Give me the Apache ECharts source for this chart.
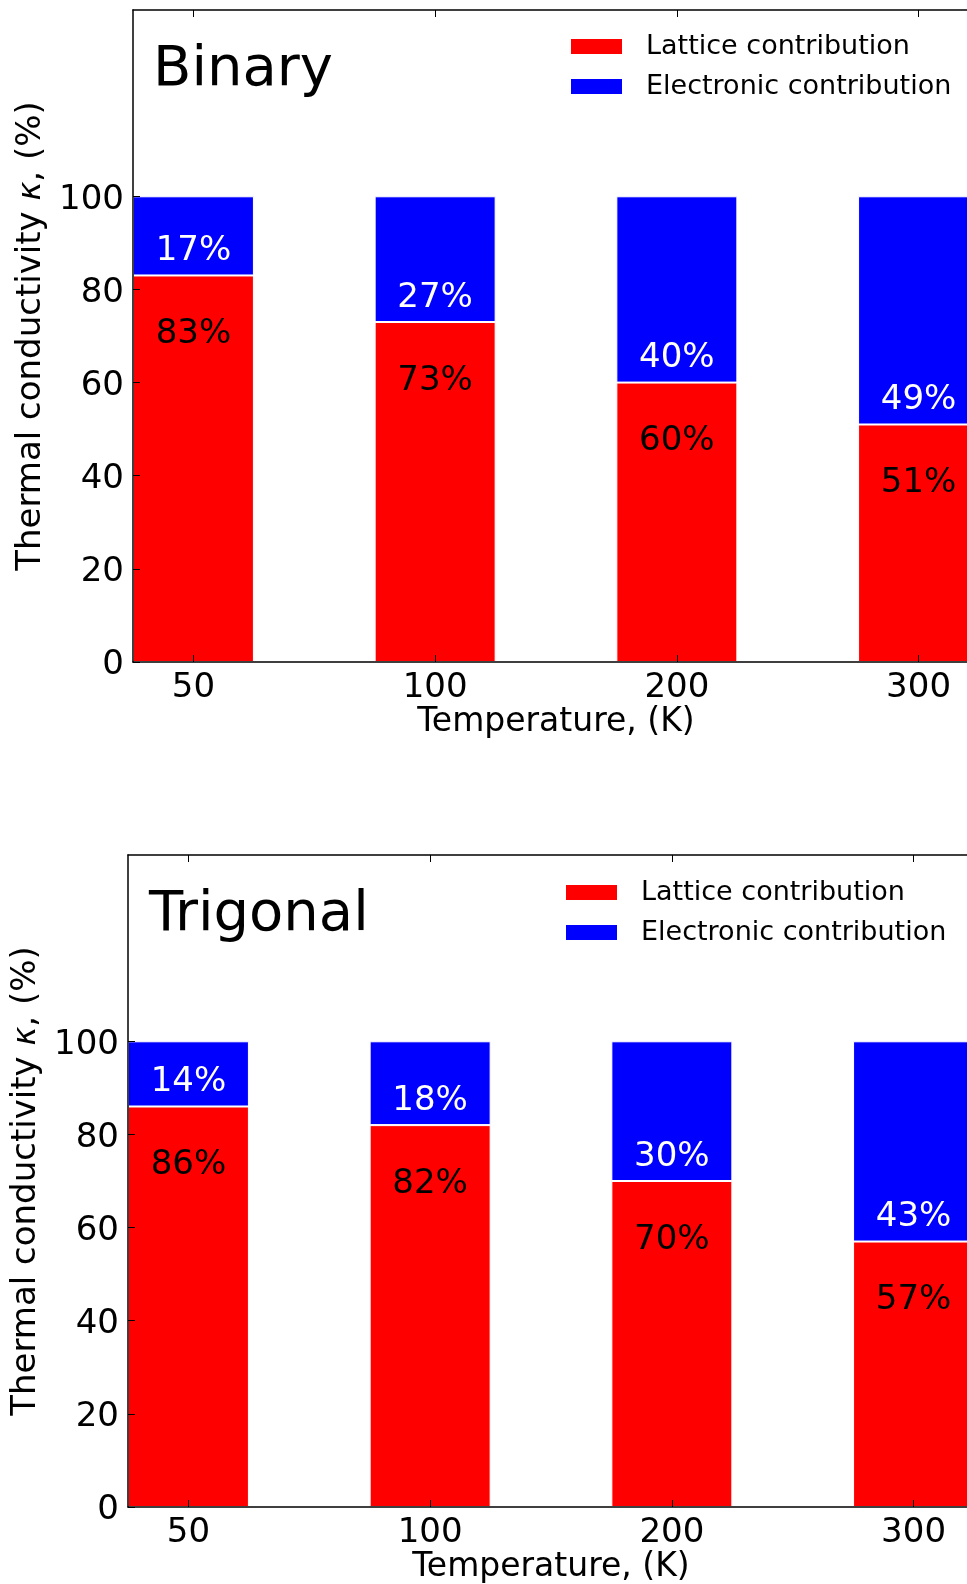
<!DOCTYPE html>
<html>
<head>
<meta charset="utf-8">
<script src="https://cdn.jsdelivr.net/npm/echarts@6/dist/echarts.min.js"></script>
<style>
  html, body { margin: 0; padding: 0; background: #fff; }
  #chart { width: 967px; height: 1584px; }
</style>
</head>
<body>
<div id="chart"></div>
<script>
// temperatures (K) shown under each bar
const temps = ["50", "100", "200", "300"];
const xPos = [0, 1, 2, 3];
// percentages
const binaryLattice = [83, 73, 60, 51];
const binaryElectronic = [17, 27, 40, 49];
const trigonalLattice = [86, 82, 70, 57];
const trigonalElectronic = [14, 18, 30, 43];
const yTicks = [0, 20, 40, 60, 80, 100];

const FONT = "DejaVu Sans";
const names = ["Lattice contribution", "Electronic contribution"];

// value first so the stack works on y
function pairs(vals) {
  return vals.map((v, i) => [v, xPos[i]]);
}

function bottomAxis(gridIndex) {
  return {
    type: "value",
    gridIndex: gridIndex,
    min: -0.25,
    max: 3.25,
    z: 10,
    name: "Temperature, (K)",
    nameLocation: "middle",
    nameGap: 43,
    nameTextStyle: { fontFamily: FONT, fontSize: 33, color: "#000" },
    axisLine: { show: true, onZero: false, lineStyle: { color: "#000", width: 1.5 } },
    axisTick: { show: true, inside: true, length: 7, customValues: xPos, lineStyle: { color: "#000" } },
    axisLabel: {
      customValues: xPos,
      margin: 9,
      fontFamily: FONT,
      fontSize: 34,
      color: "#000",
      formatter: (v) => temps[Math.round(v)],
    },
    splitLine: { show: false },
  };
}

function topAxis(gridIndex) {
  return {
    type: "value",
    gridIndex: gridIndex,
    position: "top",
    min: -0.25,
    max: 3.25,
    z: 10,
    axisLine: { show: true, onZero: false, lineStyle: { color: "#000", width: 1.5 } },
    axisTick: { show: true, inside: true, length: 7, customValues: xPos, lineStyle: { color: "#000" } },
    axisLabel: { show: false },
    splitLine: { show: false },
  };
}

function leftAxis(gridIndex) {
  return {
    type: "value",
    gridIndex: gridIndex,
    min: 0,
    max: 140,
    interval: 20,
    z: 10,
    name: "{a|Thermal conductivity }{k|κ}{a|, (%)}",
    nameLocation: "middle",
    nameGap: 83,
    nameTextStyle: {
      color: "#000",
      rich: {
        a: { fontFamily: FONT, fontSize: 34, color: "#000" },
        k: { fontFamily: FONT, fontSize: 32, fontStyle: "italic", color: "#000" },
      },
    },
    axisLine: { show: true, onZero: false, lineStyle: { color: "#000", width: 1.5 } },
    axisTick: { show: true, inside: true, length: 7, customValues: yTicks, lineStyle: { color: "#000" } },
    axisLabel: {
      customValues: yTicks,
      margin: 9,
      formatter: (v) => "{v|" + v + "}",
      rich: { v: { fontFamily: FONT, fontSize: 34, color: "#000", padding: [7, 0, 0, 0] } },
    },
    splitLine: { show: false },
  };
}

function barSeries(name, vals, idx, color, inTop) {
  return {
    name: name,
    type: "bar",
    stack: "s" + idx,
    xAxisIndex: idx * 2,
    yAxisIndex: idx,
    barWidth: 121,
    encode: { x: 1, y: 0 },
    data: pairs(vals),
    itemStyle: { color: color, borderColor: "#fff", borderWidth: 1 },
    label: {
      show: true,
      position: inTop ? "insideTop" : "insideBottom",
      distance: inTop ? 42 : 7,
      fontFamily: FONT,
      fontSize: 34,
      color: inTop ? "#000" : "#fff",
      formatter: (p) => p.value[0] + "%",
    },
  };
}

function legendAt(left, top) {
  return {
    data: names,
    orient: "vertical",
    left: left,
    top: top,
    padding: 0,
    icon: "rect",
    itemWidth: 53,
    itemHeight: 17,
    itemGap: 13,
    selectedMode: false,
    textStyle: { fontFamily: FONT, fontSize: 27, color: "#000", padding: [0, 0, 0, 18] },
  };
}

const chart = echarts.init(document.getElementById("chart"));
chart.setOption({
  backgroundColor: "#fff",
  animation: false,
  title: [
    { text: "Binary", left: 153, top: 42, padding: 0,
      textStyle: { fontFamily: FONT, fontSize: 56, fontWeight: "normal", color: "#000" } },
    { text: "Trigonal", left: 149, top: 887, padding: 0,
      textStyle: { fontFamily: FONT, fontSize: 56, fontWeight: "normal", color: "#000" } },
  ],
  legend: [legendAt(569, 33), legendAt(564, 879)],
  // the original figure is cropped on the right, so the plots run past the page edge
  grid: [
    { left: 133, top: 10, right: -12, height: 652, outerBoundsMode: "none" },
    { left: 128, top: 855, right: -7, height: 652, outerBoundsMode: "none" },
  ],
  xAxis: [bottomAxis(0), topAxis(0), bottomAxis(1), topAxis(1)],
  yAxis: [leftAxis(0), leftAxis(1)],
  series: [
    barSeries(names[0], binaryLattice, 0, "#ff0000", true),
    barSeries(names[1], binaryElectronic, 0, "#0000ff", false),
    barSeries(names[0], trigonalLattice, 1, "#ff0000", true),
    barSeries(names[1], trigonalElectronic, 1, "#0000ff", false),
  ],
});
</script>
</body>
</html>
